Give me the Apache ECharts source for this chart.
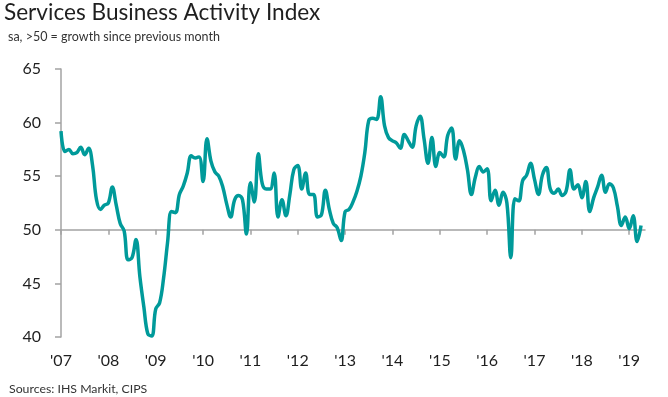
<!DOCTYPE html>
<html>
<head>
<meta charset="utf-8">
<script src="https://cdn.jsdelivr.net/npm/echarts@6/dist/echarts.min.js"></script>
<style>
  html, body { margin: 0; padding: 0; background: #fff; }
  #chart { width: 668px; height: 397px; }
</style>
</head>
<body>
<div id="chart"></div>
<script>
// year tick labels, one per January
const yearLabels = ["'07", "'08", "'09", "'10", "'11", "'12", "'13", "'14", "'15", "'16", "'17", "'18", "'19"]

// monthly index, Jan 2007 - Apr 2019
const activity2007 = [59.2, 57.3, 57.5, 57.1, 57.2, 57.7, 57.0, 57.6, 56.0, 52.8, 51.9, 52.3]
const activity2008 = [52.5, 54.0, 52.3, 50.6, 49.9, 47.2, 47.4, 49.1, 45.6, 42.8, 40.3, 40.1]
const activity2009 = [42.6, 43.2, 45.5, 48.8, 51.7, 51.6, 53.3, 54.1, 55.3, 56.9, 56.7, 56.8]
const activity2010 = [54.5, 58.5, 56.4, 55.4, 55.0, 54.0, 52.4, 51.2, 52.8, 53.2, 52.8, 49.6]
const activity2011 = [54.4, 52.6, 57.1, 54.3, 53.8, 53.8, 55.3, 51.2, 52.8, 51.3, 53.3, 55.6]
const activity2012 = [56.0, 53.8, 55.3, 53.3, 53.3, 51.2, 51.4, 53.7, 51.9, 50.6, 50.2, 49.0]
const activity2013 = [51.7, 51.9, 52.6, 53.6, 55.0, 57.2, 60.2, 60.4, 60.3, 62.4, 59.7, 58.6]
const activity2014 = [58.3, 58.1, 57.6, 58.9, 58.3, 57.7, 59.7, 60.6, 58.5, 56.2, 58.6, 55.9]
const activity2015 = [57.2, 56.8, 58.8, 59.5, 56.6, 58.3, 57.4, 55.6, 53.3, 54.9, 55.9, 55.4]
const activity2016 = [55.7, 52.7, 53.7, 52.3, 53.5, 52.5, 47.4, 52.9, 52.7, 54.6, 55.1, 56.2]
const activity2017 = [54.7, 53.3, 55.1, 55.8, 53.8, 53.4, 53.8, 53.2, 53.6, 55.6, 53.8, 54.2]
const activity2018 = [53.0, 54.5, 51.7, 53.0, 54.0, 55.1, 53.5, 54.3, 53.9, 52.2, 50.4, 51.2]
const activity2019 = [50.1, 51.3, 48.9, 50.4]

const activity = [].concat(
  activity2007, activity2008, activity2009, activity2010, activity2011, activity2012,
  activity2013, activity2014, activity2015, activity2016, activity2017, activity2018, activity2019
)

// one category per month, plus one empty slot after the last month
const categories = []
yearLabels.forEach(y => {
  for (let m = 1; m <= 12; m++) categories.push(y + '-' + m)
})
categories.length = activity.length + 1

const textColor = '#1f1f1f'
const axisColor = '#a3a3a3'
const font = 'Lato'

const chart = echarts.init(document.getElementById('chart'))

const option = {
  animation: false,
  title: [
    {
      text: 'Services Business Activity Index',
      left: 4, top: 1, padding: 0,
      textStyle: { fontFamily: font, fontSize: 22.6, fontWeight: 'normal', color: textColor }
    },
    {
      text: 'sa, >50 = growth since previous month',
      left: 8, top: 30, padding: 0,
      textStyle: { fontFamily: font, fontSize: 12.5, fontWeight: 'normal', color: '#333' }
    },
    {
      text: 'Sources: IHS Markit, CIPS',
      left: 9, top: 383, padding: 0,
      textStyle: { fontFamily: font, fontSize: 12.3, fontWeight: 'normal', color: '#333' }
    }
  ],
  grid: { left: 61, top: 69, width: 584, height: 268, containLabel: false },
  xAxis: [
    {
      // labels along the bottom
      type: 'category',
      data: categories,
      boundaryGap: false,
      position: 'bottom',
      axisLine: { show: false },
      axisTick: { show: false },
      axisLabel: {
        interval: 11,
        margin: 16,
        fontFamily: font,
        fontSize: 16,
        color: textColor,
        formatter: v => v.split('-')[0]
      },
      splitLine: { show: false }
    },
    {
      // the line at 50 with the year ticks
      type: 'category',
      data: categories,
      boundaryGap: false,
      position: 'bottom',
      offset: -107.2,
      axisLine: { show: true, lineStyle: { color: axisColor, width: 1.5 } },
      axisTick: { show: true, interval: 11, length: 5, lineStyle: { color: axisColor, width: 1.5 } },
      axisLabel: { show: false },
      splitLine: { show: false }
    }
  ],
  yAxis: {
    type: 'value',
    min: 40,
    max: 65,
    interval: 5,
    axisLine: { show: true, lineStyle: { color: axisColor, width: 1.5 } },
    axisTick: { show: true, length: 6, lineStyle: { color: axisColor, width: 1.5 } },
    axisLabel: { margin: 20, fontFamily: font, fontSize: 16, color: textColor },
    splitLine: { show: false }
  },
  series: [
    {
      type: 'line',
      xAxisIndex: 0,
      data: activity,
      smooth: 0.4,
      symbol: 'none',
      lineStyle: { color: '#009a9a', width: 3.5 }
    }
  ]
}

chart.setOption(option)
</script>
</body>
</html>
